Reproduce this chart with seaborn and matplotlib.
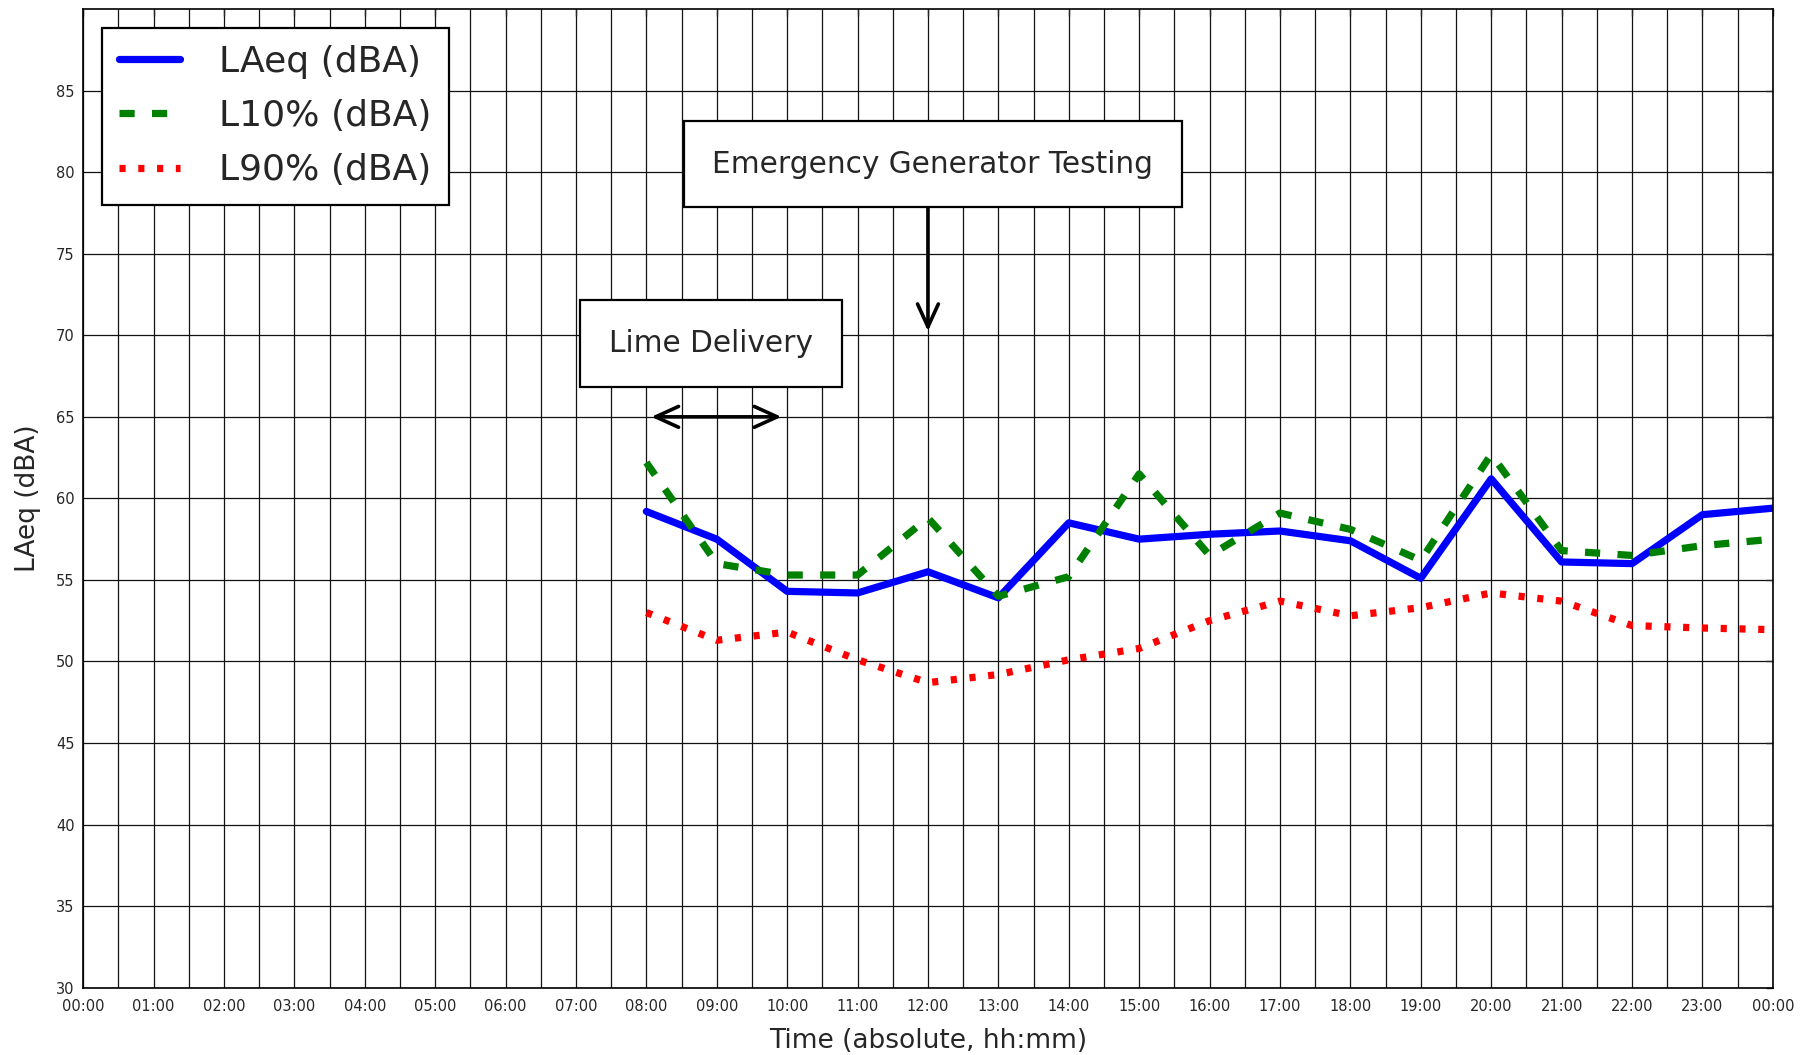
import matplotlib
matplotlib.use("Agg")
import matplotlib.pyplot as plt
from matplotlib.ticker import MultipleLocator
import seaborn as sns
import pandas as pd

# Hourly noise levels, 08:00 through midnight (hour 24)
hours = [8, 9, 10, 11, 12, 13, 14, 15, 16, 17, 18, 19, 20, 21, 22, 23, 24]
laeq = [59.2, 57.5, 54.3, 54.2, 55.5, 53.9, 58.5, 57.5, 57.8, 58.0, 57.4, 55.1, 61.2, 56.1, 56.0, 59.0, 59.4]
l10 = [62.2, 56.0, 55.3, 55.3, 58.8, 54.0, 55.2, 61.5, 56.5, 59.1, 58.1, 56.2, 62.7, 56.8, 56.5, 57.1, 57.5]
l90 = [53.0, 51.3, 51.8, 50.1, 48.7, 49.2, 50.1, 50.8, 52.5, 53.7, 52.8, 53.3, 54.2, 53.7, 52.2, 52.05, 51.95]

series_names = ["LAeq (dBA)", "L10% (dBA)", "L90% (dBA)"]
hour_labels = ["00:00", "01:00", "02:00", "03:00", "04:00", "05:00", "06:00", "07:00",
               "08:00", "09:00", "10:00", "11:00", "12:00", "13:00", "14:00", "15:00",
               "16:00", "17:00", "18:00", "19:00", "20:00", "21:00", "22:00", "23:00", "00:00"]
y_ticks = [30, 35, 40, 45, 50, 55, 60, 65, 70, 75, 80, 85]

df = pd.DataFrame({
    "hour": hours * 3,
    "level": laeq + l10 + l90,
    "series": [series_names[0]] * len(hours) + [series_names[1]] * len(hours) + [series_names[2]] * len(hours),
})

sns.set_style("white")
plt.rcParams["font.family"] = ["DejaVu Sans"]

fig = plt.figure(figsize=(18.11, 10.55), dpi=100)
ax = fig.add_axes([0.0459, 0.0639, 0.933, 0.9274])

styles = {
    series_names[0]: dict(color="#0000ff", linestyle="-"),
    series_names[1]: dict(color="#008000", linestyle=(0, (2.1, 2.4))),
    series_names[2]: dict(color="#ff0000", linestyle=(0, (0.85, 1.75))),
}
for name in series_names:
    sub = df[df["series"] == name]
    sns.lineplot(data=sub, x="hour", y="level", ax=ax, label=name,
                 linewidth=5.2, color=styles[name]["color"],
                 linestyle=styles[name]["linestyle"], estimator=None)

ax.set_xlim(0, 24)
ax.set_ylim(30, 90)
ax.set_xticks(range(0, 25))
ax.set_xticklabels(hour_labels, fontsize=10.5)
ax.xaxis.set_minor_locator(MultipleLocator(0.5))
ax.set_yticks(y_ticks)
ax.set_yticklabels([str(v) for v in y_ticks], fontsize=10.5)
ax.grid(True, which="both", color="#111111", linewidth=0.9, linestyle="-")
ax.tick_params(which="both", direction="in", top=True, right=True, length=5, width=1)
ax.tick_params(axis="x", pad=8.5)
ax.tick_params(axis="y", pad=6)
ax.tick_params(which="minor", length=0)
for s in ax.spines.values():
    s.set_color("black")
    s.set_linewidth(1.2)

ax.set_xlabel("Time (absolute, hh:mm)", fontsize=19, labelpad=10)
ax.set_ylabel("LAeq (dBA)", fontsize=19, labelpad=11)

leg = ax.legend(loc="upper left", fontsize=26, frameon=True, fancybox=False,
                edgecolor="black", framealpha=1, handlelength=1.7, handletextpad=1.08,
                labelspacing=0.56, borderpad=0.48, borderaxespad=0,
                bbox_to_anchor=(0.0109, 0.9812))
leg.get_frame().set_linewidth(1.6)

box = dict(boxstyle="square,pad=0.97", facecolor="white", edgecolor="black", linewidth=1.6)
head = "head_length=1.65,head_width=0.75"
ax.text(8.92, 69.5, "Lime Delivery", fontsize=21.3, ha="center", va="center", bbox=box, zorder=5)
ax.annotate("", xy=(8.07, 65), xytext=(9.92, 65),
            arrowprops=dict(arrowstyle="<->," + head, color="black", lw=2.6,
                            shrinkA=0, shrinkB=0), zorder=5)
ax.text(12.07, 80.5, "Emergency Generator Testing", fontsize=21.3, ha="center", va="center",
        bbox=box, zorder=5)
ax.annotate("", xy=(12.0, 70.25), xytext=(12.0, 77.8),
            arrowprops=dict(arrowstyle="->," + head, color="black", lw=2.6,
                            shrinkA=0, shrinkB=0), zorder=5)

fig.savefig("out.png", dpi=100)
